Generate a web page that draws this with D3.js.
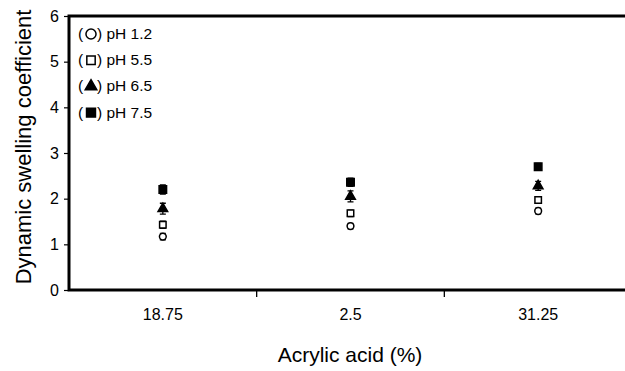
<!DOCTYPE html>
<html>
<head>
<meta charset="utf-8">
<script src="https://cdn.jsdelivr.net/npm/d3@7"></script>
<style>
  body { margin: 0; background: #fff; }
  svg { display: block; font-family: "Liberation Sans", Arial, sans-serif; }
</style>
</head>
<body>
<div id="main"></div>
<script>
// data
var categories = ["18.75", "2.5", "31.25"];
var series = ["pH 1.2", "pH 5.5", "pH 6.5", "pH 7.5"];
var ph12 = [1.17, 1.40, 1.73];
var ph55 = [1.43, 1.68, 1.97];
var ph65 = [1.78, 2.05, 2.28];
var ph75 = [2.20, 2.36, 2.70];
var err12 = [0.07, 0.06, 0.06];
var err55 = [0.08, 0.07, 0.07];
var err65 = [0.12, 0.12, 0.10];
var err75 = [0.10, 0.09, 0.07];
var yTicks = [0, 1, 2, 3, 4, 5, 6];

var width = 625, height = 371;
var margin = {left: 69, top: 16, bottom: 290, right: 632};

var x = d3.scaleBand().domain(categories).range([margin.left, margin.right]);
var y = d3.scaleLinear().domain([0, 6]).range([margin.bottom, margin.top]);

var symbols = [
  {type: d3.symbolCircle, size: 36, legend: 80, fill: "#fff"},
  {type: d3.symbolSquare, size: 42, legend: 70, fill: "#fff"},
  {type: d3.symbolTriangle, size: 40, legend: 58, fill: "#000"},
  {type: d3.symbolSquare, size: 56, legend: 80, fill: "#000"}
];
var values = [ph12, ph55, ph65, ph75];
var errs = [err12, err55, err65, err75];

function main() {
  const svg = d3.create("svg")
    .attr("width", width)
    .attr("height", height);

  // y axis
  const yAxis = svg.append("g")
    .attr("transform", `translate(${margin.left},0)`)
    .call(d3.axisLeft(y).tickValues(yTicks).tickFormat(d3.format("d")).tickSize(5).tickPadding(5))
    .attr("font-size", 16)
    .attr("font-family", null);
  yAxis.select(".domain").remove();
  yAxis.selectAll(".tick line").attr("stroke-width", 1.2);
  yAxis.selectAll("text").attr("fill", "#000");

  // x axis ticks between categories
  const xAxis = svg.append("g")
    .attr("transform", `translate(0,${margin.bottom})`);
  xAxis.selectAll("line")
    .data(categories.slice(1))
    .join("line")
      .attr("x1", d => x(d)).attr("x2", d => x(d))
      .attr("y1", 0).attr("y2", 7)
      .attr("stroke", "#000").attr("stroke-width", 1.3);
  xAxis.selectAll("text")
    .data(categories)
    .join("text")
      .attr("x", d => x(d) + x.bandwidth() / 2)
      .attr("y", 30)
      .attr("text-anchor", "middle")
      .attr("font-size", 16)
      .text(d => d);

  // frame
  svg.append("path")
    .attr("d", `M${width + 5},${margin.top}H${margin.left}V${margin.bottom}H${width + 5}`)
    .attr("fill", "none")
    .attr("stroke", "#000")
    .attr("stroke-width", 3);

  // error bars + markers
  values.forEach((vals, s) => {
    const g = svg.append("g");
    vals.forEach((v, i) => {
      const cx = x(categories[i]) + x.bandwidth() / 2;
      const e = errs[s][i];
      g.append("path")
        .attr("d", `M${cx},${y(v - e)}V${y(v + e)}M${cx - 3},${y(v + e)}h6M${cx - 3},${y(v - e)}h6`)
        .attr("stroke", "#000").attr("stroke-width", 1.3).attr("fill", "none");
      g.append("path")
        .attr("transform", `translate(${cx},${y(v)})`)
        .attr("d", d3.symbol().type(symbols[s].type).size(symbols[s].size)())
        .attr("fill", symbols[s].fill)
        .attr("stroke", "#000")
        .attr("stroke-width", 1.5);
    });
  });

  // legend
  const legend = svg.append("g").attr("font-size", 15.5);
  series.forEach((name, s) => {
    const ly = 39 + s * 26.2;
    legend.append("text").attr("x", 78).attr("y", ly).text("(");
    legend.append("path")
      .attr("transform", `translate(91,${ly - 5})`)
      .attr("d", d3.symbol().type(symbols[s].type).size(symbols[s].legend)())
      .attr("fill", symbols[s].fill)
      .attr("stroke", "#000")
      .attr("stroke-width", 1.5);
    legend.append("text").attr("x", 97).attr("y", ly).text(") " + name);
  });

  // axis titles
  svg.append("text")
    .attr("x", 350)
    .attr("y", 362)
    .attr("text-anchor", "middle")
    .attr("font-size", 21)
    .text("Acrylic acid (%)");
  svg.append("text")
    .attr("transform", `translate(31,147) rotate(-90)`)
    .attr("text-anchor", "middle")
    .attr("font-size", 22)
    .text("Dynamic swelling coefficient");

  return svg.node();
}

document.getElementById("main").appendChild(main());
</script>
</body>
</html>
